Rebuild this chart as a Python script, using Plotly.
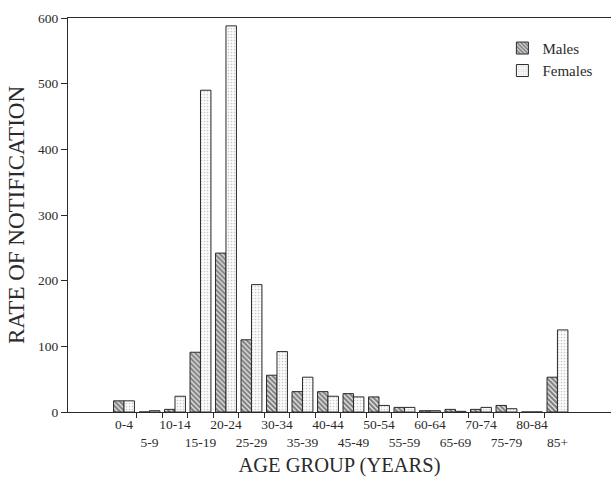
import plotly.graph_objects as go

age_groups = ["0-4", "5-9", "10-14", "15-19", "20-24", "25-29", "30-34", "35-39",
              "40-44", "45-49", "50-54", "55-59", "60-64", "65-69", "70-74",
              "75-79", "80-84", "85+"]
males = [17, 0, 4, 91, 242, 110, 56, 31, 31, 28, 23, 7, 2, 4, 4, 10, 0, 53]
females = [17, 2, 24, 490, 588, 194, 92, 53, 24, 23, 10, 7, 2, 1, 7, 5, 0, 125]
y_ticks = [0, 100, 200, 300, 400, 500, 600]

FONT = "Liberation Serif"
INK = "#2b2b2b"

idx = list(range(len(age_groups)))
# alternate labels on two rows
tick_text = [g if i % 2 == 0 else "<br>" + g for i, g in enumerate(age_groups)]
boundaries = [i + 0.5 for i in idx[:-1]]

fig = go.Figure()
fig.add_trace(go.Bar(
    x=idx, y=males, name="Males",
    marker=dict(color="white", line=dict(color=INK, width=1),
                pattern=dict(shape="\\", fgcolor="#111111", bgcolor="#e8e8e8",
                             size=3.5, solidity=0.6)),
))
fig.add_trace(go.Bar(
    x=idx, y=females, name="Females",
    marker=dict(color="white", line=dict(color=INK, width=1),
                pattern=dict(shape=".", fgcolor="#9a9a9a", bgcolor="#fbfbfb",
                             size=3, solidity=0.25)),
))
# empty trace to carry the boundary-tick axis
fig.add_trace(go.Scatter(x=[], y=[], xaxis="x2", showlegend=False, hoverinfo="skip"))

xr = [-2.196, 19.1]
fig.update_layout(
    width=611, height=477,
    margin=dict(l=68, r=0, t=18, b=65),
    paper_bgcolor="white", plot_bgcolor="white",
    font=dict(family=FONT, color=INK, size=13),
    barmode="group", bargap=0.18, bargroupgap=0,
    showlegend=True,
    legend=dict(x=0.80, xanchor="left", y=0.965, yanchor="top",
                font=dict(size=15, family=FONT, color=INK),
                bgcolor="rgba(0,0,0,0)", tracegroupgap=4),
    xaxis=dict(range=xr, tickmode="array", tickvals=idx, ticktext=tick_text,
               tickangle=0, ticks="", showgrid=False, zeroline=False,
               showline=True, linecolor=INK, linewidth=1, mirror=True,
               automargin=False,
               tickfont=dict(size=13.5, family=FONT, color=INK),
               title=dict(text="AGE GROUP (YEARS)", standoff=8,
                          font=dict(size=20.5, family=FONT, color=INK))),
    xaxis2=dict(range=xr, overlaying="x", anchor="y", side="bottom",
                tickmode="array", tickvals=boundaries, ticks="outside",
                ticklen=5, tickcolor=INK, tickwidth=1,
                showticklabels=False, showgrid=False, zeroline=False,
                showline=False),
    yaxis=dict(range=[0, 600], tickmode="array", tickvals=y_ticks,
               ticks="outside", ticklen=6, tickcolor=INK, tickwidth=1,
               showgrid=False, zeroline=False, automargin=False,
               showline=True, linecolor=INK, linewidth=1,
               tickfont=dict(size=13.5, family=FONT, color=INK),
               title=dict(text="RATE OF NOTIFICATION", standoff=6,
                          font=dict(size=23, family=FONT, color=INK))),
)

fig.write_html("out.html",
               config={"displayModeBar": False},
               post_script="document.body.style.margin='0';"
                           "document.body.style.overflow='hidden';")
